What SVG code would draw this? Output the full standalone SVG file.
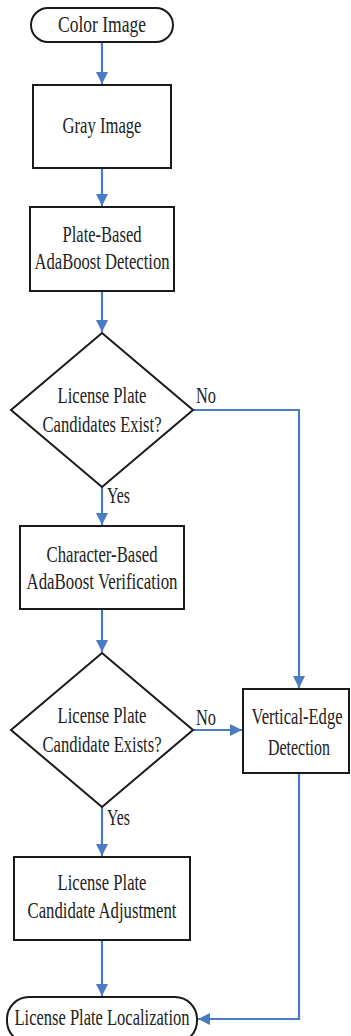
<svg xmlns="http://www.w3.org/2000/svg" width="351" height="1036" viewBox="0 0 351 1036">
<style>
.n{fill:#fff;stroke:#1a1a1a;stroke-width:2}
.t{font-family:"Liberation Serif","Times New Roman",serif;font-size:23px;fill:#222;text-anchor:middle}
.l{font-family:"Liberation Serif","Times New Roman",serif;font-size:23px;fill:#222}
.c{fill:none;stroke:#4a7cc4;stroke-width:2.2}
</style>
<defs>
<marker id="a" markerUnits="userSpaceOnUse" markerWidth="13" markerHeight="12" refX="12" refY="6" orient="auto">
<path d="M0,0 L12,6 L0,12 z" fill="#4a7cc4"/>
</marker>
</defs>
<rect width="351" height="1036" fill="#fff"/>
<g id="connectors">
<path class="c" d="M102,42 V84" marker-end="url(#a)"/>
<path class="c" d="M102,168 V206" marker-end="url(#a)"/>
<path class="c" d="M102,291 V332" marker-end="url(#a)"/>
<path class="c" d="M102,487 V525" marker-end="url(#a)"/>
<path class="c" d="M102,609 V652" marker-end="url(#a)"/>
<path class="c" d="M102,807 V856" marker-end="url(#a)"/>
<path class="c" d="M102,940 V996" marker-end="url(#a)"/>
<path class="c" d="M193,410 H299 V688" marker-end="url(#a)"/>
<path class="c" d="M193,730 H242" marker-end="url(#a)"/>
<path class="c" d="M299,773 V1019 H198" marker-end="url(#a)"/>
<text class="l" x="196" y="403" textLength="20" lengthAdjust="spacingAndGlyphs">No</text>
<text class="l" x="196" y="725" textLength="20" lengthAdjust="spacingAndGlyphs">No</text>
<text class="l" x="107" y="503" textLength="23" lengthAdjust="spacingAndGlyphs">Yes</text>
<text class="l" x="107" y="825" textLength="23" lengthAdjust="spacingAndGlyphs">Yes</text>
</g>
<g id="color-image">
<rect class="n" x="31" y="8" width="142" height="34" rx="17"/>
<text class="t" x="102" y="32" textLength="88" lengthAdjust="spacingAndGlyphs">Color  Image</text>
</g>
<g id="gray-image">
<rect class="n" x="33" y="85" width="138" height="83"/>
<text class="t" x="102" y="133" textLength="79" lengthAdjust="spacingAndGlyphs">Gray Image</text>
</g>
<g id="plate-based">
<rect class="n" x="30" y="207" width="144" height="84"/>
<text class="t" x="102" y="242" textLength="79" lengthAdjust="spacingAndGlyphs">Plate-Based</text>
<text class="t" x="102" y="269" textLength="135" lengthAdjust="spacingAndGlyphs">AdaBoost Detection</text>
</g>
<g id="decision-1">
<path class="n" d="M102,333 L193,410 L102,487 L11,410 Z"/>
<text class="t" x="102" y="403" textLength="89" lengthAdjust="spacingAndGlyphs">License Plate</text>
<text class="t" x="102" y="432" textLength="119" lengthAdjust="spacingAndGlyphs">Candidates Exist?</text>
</g>
<g id="character-based">
<rect class="n" x="20" y="526" width="164" height="83"/>
<text class="t" x="102" y="562" textLength="111" lengthAdjust="spacingAndGlyphs">Character-Based</text>
<text class="t" x="102" y="589" textLength="151" lengthAdjust="spacingAndGlyphs">AdaBoost Verification</text>
</g>
<g id="decision-2">
<path class="n" d="M102,653 L193,730 L102,807 L11,730 Z"/>
<text class="t" x="102" y="723" textLength="89" lengthAdjust="spacingAndGlyphs">License Plate</text>
<text class="t" x="102" y="752" textLength="119" lengthAdjust="spacingAndGlyphs">Candidate Exists?</text>
</g>
<g id="vertical-edge">
<rect class="n" x="243" y="689" width="106" height="84"/>
<text class="t" transform="translate(297,724) scale(0.7,1)" x="0" y="0" textLength="130" lengthAdjust="spacingAndGlyphs">Vertical-Edge</text>
<text class="t" transform="translate(299,755) scale(0.7,1)" x="0" y="0" textLength="88.6" lengthAdjust="spacingAndGlyphs">Detection</text>
</g>
<g id="adjustment">
<rect class="n" x="14" y="857" width="176" height="83"/>
<text class="t" x="102" y="890" textLength="89" lengthAdjust="spacingAndGlyphs">License Plate</text>
<text class="t" x="102" y="918" textLength="149" lengthAdjust="spacingAndGlyphs">Candidate Adjustment</text>
</g>
<g id="localization">
<rect class="n" x="7" y="997" width="190" height="46" rx="22"/>
<text class="t" x="102" y="1025" textLength="175" lengthAdjust="spacingAndGlyphs">License Plate Localization</text>
</g>
</svg>
